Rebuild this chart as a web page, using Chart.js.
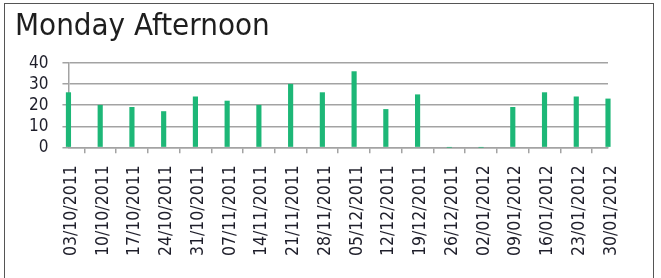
<!DOCTYPE html>
<html>
<head>
<meta charset="utf-8">
<script src="https://cdn.jsdelivr.net/npm/chart.js@4"></script>
<style>
  html, body { margin: 0; padding: 0; background: #fff; }
  #wrap { position: relative; width: 661px; height: 278px; }
  #frame { position: absolute; left: 4px; top: 3px; width: 650px; height: 280px;
           border: 1.5px solid #555; box-sizing: border-box; }
  canvas { position: absolute; left: 0; top: 0; }
</style>
</head>
<body>
<div id="wrap">
  <canvas id="grafico" width="661" height="278"></canvas>
  <div id="frame"></div>
</div>
<script>
// semanas (segundas-feiras)
const datas = ["03/10/2011", "10/10/2011", "17/10/2011", "24/10/2011", "31/10/2011",
  "07/11/2011", "14/11/2011", "21/11/2011", "28/11/2011", "05/12/2011", "12/12/2011",
  "19/12/2011", "26/12/2011", "02/01/2012", "09/01/2012", "16/01/2012", "23/01/2012",
  "30/01/2012"];
const valores = [26, 20, 19, 17, 24, 22, 20, 30, 26, 36, 18, 25, 0, 0, 19, 26, 24, 23];
const ticksY = [0, 10, 20, 30, 40];

const fonte = "'DejaVu Sans Condensed', 'DejaVu Sans', sans-serif";
const cinza = "#a3a3a3";

const ctx = document.getElementById("grafico").getContext("2d");
new Chart(ctx, {
  type: "bar",
  data: {
    labels: datas,
    datasets: [{
      label: "Monday Afternoon",
      data: valores,
      backgroundColor: "#1db777",
      barThickness: 4.5,
      clip: false
    }]
  },
  options: {
    responsive: false,
    animation: false,
    layout: { padding: { left: 15, right: 53, top: 8, bottom: 10 } },
    plugins: {
      legend: { display: false },
      tooltip: { enabled: false },
      title: {
        display: true,
        text: "Monday Afternoon",
        align: "start",
        color: "#1e1e1e",
        font: { family: fonte, size: 31, weight: "normal" },
        padding: { top: 0, bottom: 18 }
      }
    },
    scales: {
      x: {
        offset: false,
        grid: { display: true, drawOnChartArea: false, drawTicks: true, tickLength: 6, color: cinza, lineWidth: 1.5 },
        border: { display: true, color: cinza, width: 1.5 },
        ticks: {
          color: "#1e1e2a",
          font: { family: fonte, size: 17.5 },
          minRotation: 90, maxRotation: 90,
          autoSkip: false, padding: 12, labelOffset: 3
        }
      },
      y: {
        min: 0, max: 40,
        afterBuildTicks: axis => { axis.ticks = ticksY.map(v => ({ value: v })); },
        grid: { color: cinza, lineWidth: 1.5, tickLength: 6 },
        border: { display: true, color: cinza, width: 1.5 },
        ticks: {
          color: "#1e1e2a",
          font: { family: fonte, size: 17 },
          padding: 14,
          autoSkip: false
        }
      }
    }
  }
});
</script>
</body>
</html>
